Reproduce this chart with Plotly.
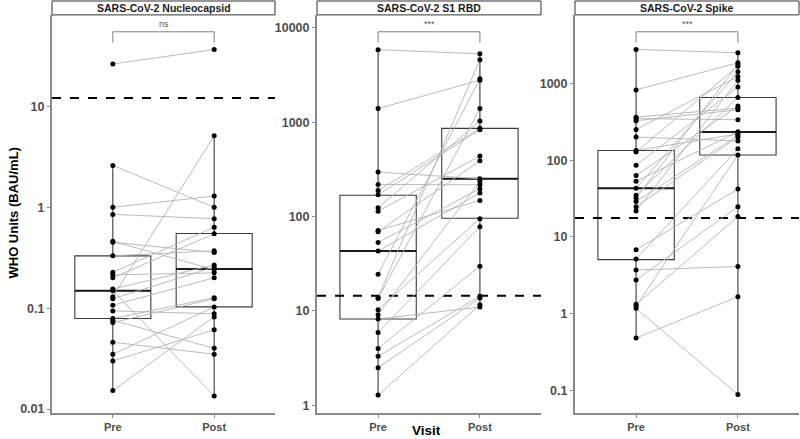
import plotly.graph_objects as go

# ---------------- data ----------------
panel_titles = ["SARS-CoV-2 Nucleocapsid", "SARS-CoV-2 S1 RBD", "SARS-CoV-2 Spike"]
visit_labels = ["Pre", "Post"]
sig_labels = ["ns", "***", "***"]

nuc_pre = [26.3, 2.6, 1.0, 0.85, 0.46, 0.45, 0.33, 0.227, 0.214, 0.20, 0.155, 0.149,
           0.13, 0.124, 0.107, 0.094, 0.079, 0.076, 0.072, 0.046, 0.035, 0.030, 0.0153]
nuc_post = [36.5, 1.0, 1.29, 0.77, 0.241, 0.357, 0.37, 0.635, 0.224, 0.546, 0.268, 0.0135,
            5.1, 0.255, 0.2, 0.088, 0.127, 0.040, 0.124, 0.035, 0.103, 0.061, 0.082]

rbd_pre = [5870, 1394, 296, 219, 189, 170, 124, 114, 71, 69, 53, 43, 24.5, 13.9, 13.5,
           10.3, 9.1, 8.2, 5.9, 4.0, 3.3, 2.5, 1.28]
rbd_post = [5300, 2790, 251, 217, 860, 830, 1030, 437, 148, 391, 197, 178, 2880, 4600, 1394,
            95, 236, 11, 78, 29.8, 14.3, 13.7, 11.6]

spike_pre = [2775, 825, 363, 348, 327, 251, 200, 134, 128, 86, 63, 53, 43, 35, 32, 29,
             24.8, 21.7, 6.8, 5.15, 3.7, 2.75, 1.32, 1.26, 1.17, 0.48]
spike_post = [2510, 1860, 478, 337, 454, 1230, 178, 220, 1680, 900, 508, 234, 1420, 657, 1770, 209,
              200, 1100, 42, 141, 4.1, 24.8, 18.4, 117, 0.088, 1.66]

# box statistics: [Pre, Post]
box_q1 = [[0.079, 0.103], [8.2, 96], [5.05, 117]]
box_median = [[0.149, 0.245], [43, 251], [43, 233]]
box_q3 = [[0.33, 0.55], [168, 860], [134, 657]]
box_low = [[0.0153, 0.0135], [1.28, 11], [0.48, 0.088]]
box_high = [[2.6, 5.1], [5870, 5300], [2775, 2510]]

cutoffs = [12.1, 14.5, 17.6]

ytick_vals = [[0.01, 0.1, 1, 10], [1, 10, 100, 1000, 10000], [0.1, 1, 10, 100, 1000]]
ytick_text = [["0.01", "0.1", "1", "10"], ["1", "10", "100", "1000", "10000"],
              ["0.1", "1", "10", "100", "1000"]]
y_log_ranges = [[-2.04, 1.906], [-0.084, 4.137], [-1.298, 3.894]]

pre_series = [nuc_pre, rbd_pre, spike_pre]
post_series = [nuc_post, rbd_post, spike_post]

# ---------------- layout geometry ----------------
W, H = 800, 439
x_domains = [[52 / W, 275 / W], [317 / W, 541 / W], [575 / W, 799 / W]]
y_domain = [1 - 416 / H, 1 - 15 / H]
strip_top = 1 - 1 / H
font_family = "Liberation Sans, Arial, sans-serif"
tick_color = "#4d4d4d"
axis_line_color = "#8a8a8a"

fig = go.Figure()
shapes = []
annotations = []
layout_axes = {}

for i in range(3):
    xa = "x" if i == 0 else f"x{i+1}"
    ya = "y" if i == 0 else f"y{i+1}"
    pre, post = pre_series[i], post_series[i]

    # boxes
    fig.add_trace(go.Box(
        x=[0, 1], q1=box_q1[i], median=box_median[i], q3=box_q3[i],
        lowerfence=box_low[i], upperfence=box_high[i],
        width=0.75, boxpoints=False, whiskerwidth=0,
        line=dict(color="#3a3a3a", width=1.1), fillcolor="rgba(255,255,255,0)",
        xaxis=xa, yaxis=ya, showlegend=False, hoverinfo="skip"))
    # thicker median lines
    mx, my = [], []
    for j in range(2):
        mx += [j - 0.375, j + 0.375, None]
        my += [box_median[i][j], box_median[i][j], None]
    fig.add_trace(go.Scatter(x=mx, y=my, mode="lines",
                             line=dict(color="#1a1a1a", width=2),
                             xaxis=xa, yaxis=ya, showlegend=False, hoverinfo="skip"))

    # dashed cutoff
    fig.add_trace(go.Scatter(x=[-0.6, 1.6], y=[cutoffs[i], cutoffs[i]], mode="lines",
                             line=dict(color="black", width=2, dash="dash"),
                             xaxis=xa, yaxis=ya, showlegend=False, hoverinfo="skip"))

    # paired lines
    lx, ly = [], []
    for a, b in zip(pre, post):
        lx += [0, 1, None]
        ly += [a, b, None]
    fig.add_trace(go.Scatter(x=lx, y=ly, mode="lines",
                             line=dict(color="#b3b3b3", width=0.9),
                             xaxis=xa, yaxis=ya, showlegend=False, hoverinfo="skip"))
    # points
    fig.add_trace(go.Scatter(x=[0] * len(pre) + [1] * len(post), y=pre + post, mode="markers",
                             marker=dict(color="black", size=5),
                             xaxis=xa, yaxis=ya, showlegend=False, hoverinfo="skip"))

    layout_axes["xaxis" if i == 0 else f"xaxis{i+1}"] = dict(
        domain=x_domains[i], anchor=ya, range=[-0.6, 1.6],
        tickvals=[0, 1], ticktext=visit_labels, showgrid=False, zeroline=False,
        showline=True, linecolor=axis_line_color, linewidth=2,
        ticks="outside", ticklen=3, tickcolor=axis_line_color,
        tickfont=dict(family=font_family, size=11, color=tick_color, weight="bold"))
    layout_axes["yaxis" if i == 0 else f"yaxis{i+1}"] = dict(
        domain=y_domain, anchor=xa, type="log", range=y_log_ranges[i],
        tickvals=ytick_vals[i], ticktext=ytick_text[i], showgrid=False, zeroline=False,
        showline=True, linecolor=axis_line_color, linewidth=2,
        ticks="outside", ticklen=3, tickcolor=axis_line_color,
        tickfont=dict(family=font_family, size=12.5, color=tick_color, weight="bold"))

    # strip
    x0, x1 = x_domains[i]
    shapes.append(dict(type="rect", xref="paper", yref="paper", x0=x0, x1=x1,
                       y0=y_domain[1], y1=strip_top, line=dict(color="#333333", width=1),
                       fillcolor="white", layer="above"))
    annotations.append(dict(text=panel_titles[i], xref="paper", yref="paper",
                            x=(x0 + x1) / 2, y=(y_domain[1] + strip_top) / 2,
                            showarrow=False, xanchor="center", yanchor="middle",
                            font=dict(family=font_family, size=10.5, color="#1a1a1a", weight="bold")))

    # significance bracket
    by = 1 - 32 / H
    bt = 1 - 43 / H
    shapes.append(dict(type="path", xref=xa, yref="paper",
                       path=f"M 0 {bt} L 0 {by} L 1 {by} L 1 {bt}",
                       line=dict(color="#808080", width=1)))
    annotations.append(dict(text=sig_labels[i], xref=xa, yref="paper", x=0.5, y=by,
                            showarrow=False, xanchor="center", yanchor="bottom", yshift=1,
                            font=dict(family=font_family, size=9, color="#555555")))

annotations.append(dict(text="<b>WHO Units (BAU/mL)</b>", xref="paper", yref="paper",
                        x=14 / W, y=1 - 215 / H, textangle=-90, showarrow=False,
                        xanchor="center", yanchor="middle",
                        font=dict(family=font_family, size=13, color="black")))
annotations.append(dict(text="<b>Visit</b>", xref="paper", yref="paper",
                        x=426 / W, y=1 - 433 / H, showarrow=False,
                        xanchor="center", yanchor="middle",
                        font=dict(family=font_family, size=13.5, color="black")))

fig.update_layout(width=W, height=H, margin=dict(l=0, r=0, t=0, b=0),
                  paper_bgcolor="white", plot_bgcolor="white",
                  shapes=shapes, annotations=annotations, **layout_axes)

fig.write_html("out.html", config={"displayModeBar": False},
               post_script="document.body.style.margin='0';document.body.style.overflow='hidden';")
